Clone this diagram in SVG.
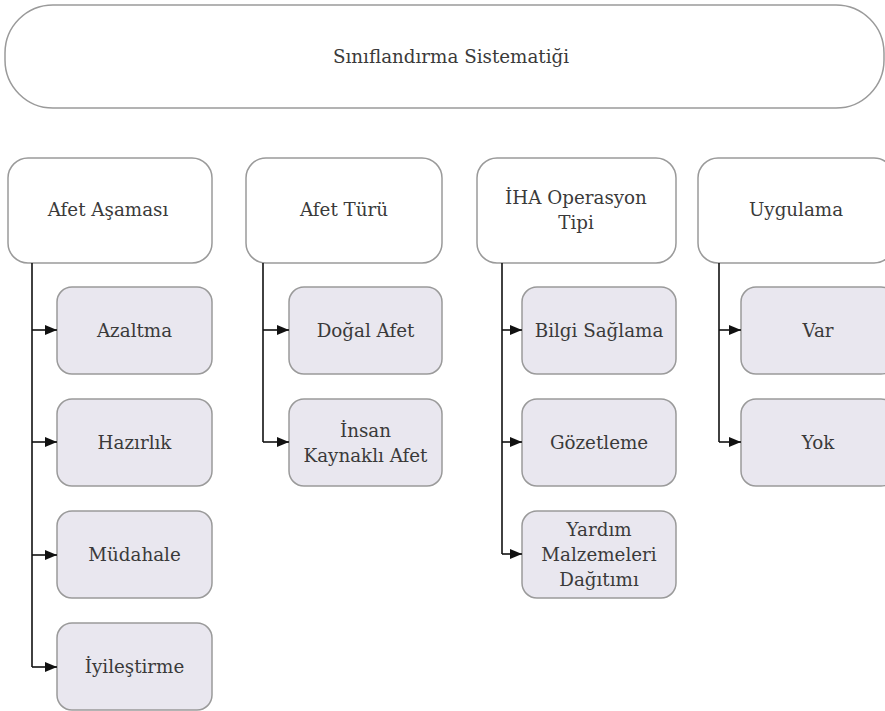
<svg xmlns="http://www.w3.org/2000/svg" width="885" height="711" viewBox="0 0 885 711">
<defs>
<style>
.p{fill:#ffffff;stroke:#9a9a9a;stroke-width:1.5}
.c{fill:#e9e7ef;stroke:#9a9a9a;stroke-width:1.5}
.t{font-family:'DejaVu Serif',serif;font-size:18.3px;fill:#3a3a3a;text-anchor:middle}
.l{fill:none;stroke:#111;stroke-width:1.6}
</style>
<marker id="ah" markerWidth="14" markerHeight="14" refX="12" refY="7" orient="auto" markerUnits="userSpaceOnUse">
<path d="M0,2 L12,7 L0,12 Z" fill="#111"/>
</marker>
</defs>
<rect width="885" height="711" fill="#ffffff"/>
<g id="root"><rect class="p" x="5" y="5" width="879" height="103" rx="48" ry="48"/><text class="t" x="451" y="63">Sınıflandırma Sistematiği</text></g>

<g id="afet-asamasi"><rect class="p" x="8" y="158" width="204" height="105" rx="20"/><text class="t" x="108" y="216">Afet Aşaması</text></g>
<g id="afet-turu"><rect class="p" x="246" y="158" width="196" height="105" rx="20"/><text class="t" x="344" y="216">Afet Türü</text></g>
<g id="iha-operasyon-tipi"><rect class="p" x="477" y="158" width="199" height="105" rx="20"/><text class="t" x="576" y="204">İHA Operasyon</text><text class="t" x="576" y="229">Tipi</text></g>
<g id="uygulama"><rect class="p" x="698" y="158" width="196" height="105" rx="20"/><text class="t" x="796" y="216">Uygulama</text></g>

<g id="azaltma"><rect class="c" x="57" y="287" width="155" height="87" rx="15"/><text class="t" x="134.5" y="337">Azaltma</text></g>
<g id="hazirlik"><rect class="c" x="57" y="399" width="155" height="87" rx="15"/><text class="t" x="134.5" y="449">Hazırlık</text></g>
<g id="mudahale"><rect class="c" x="57" y="511" width="155" height="87" rx="15"/><text class="t" x="134.5" y="561">Müdahale</text></g>
<g id="iyilestirme"><rect class="c" x="57" y="623" width="155" height="87" rx="15"/><text class="t" x="134.5" y="673">İyileştirme</text></g>

<g id="dogal-afet"><rect class="c" x="289" y="287" width="153" height="87" rx="15"/><text class="t" x="365.5" y="337">Doğal Afet</text></g>
<g id="insan-kaynakli-afet"><rect class="c" x="289" y="399" width="153" height="87" rx="15"/><text class="t" x="365.5" y="437">İnsan</text><text class="t" x="365.5" y="462">Kaynaklı Afet</text></g>

<g id="bilgi-saglama"><rect class="c" x="522" y="287" width="154" height="87" rx="15"/><text class="t" x="599" y="337">Bilgi Sağlama</text></g>
<g id="gozetleme"><rect class="c" x="522" y="399" width="154" height="87" rx="15"/><text class="t" x="599" y="449">Gözetleme</text></g>
<g id="yardim-malzemeleri-dagitimi"><rect class="c" x="522" y="511" width="154" height="87" rx="15"/><text class="t" x="599" y="536">Yardım</text><text class="t" x="599" y="561">Malzemeleri</text><text class="t" x="599" y="586">Dağıtımı</text></g>

<g id="var"><rect class="c" x="741" y="287" width="155" height="87" rx="15"/><text class="t" x="818" y="337">Var</text></g>
<g id="yok"><rect class="c" x="741" y="399" width="155" height="87" rx="15"/><text class="t" x="818" y="449">Yok</text></g>

<g id="connectors">
<path class="l" d="M32,263 V667"/>
<path class="l" d="M32,330 H57" marker-end="url(#ah)"/>
<path class="l" d="M32,442 H57" marker-end="url(#ah)"/>
<path class="l" d="M32,555 H57" marker-end="url(#ah)"/>
<path class="l" d="M32,667 H57" marker-end="url(#ah)"/>
<path class="l" d="M263,263 V442"/>
<path class="l" d="M263,330 H289" marker-end="url(#ah)"/>
<path class="l" d="M263,442 H289" marker-end="url(#ah)"/>
<path class="l" d="M502,263 V554"/>
<path class="l" d="M502,330 H522" marker-end="url(#ah)"/>
<path class="l" d="M502,442 H522" marker-end="url(#ah)"/>
<path class="l" d="M502,554 H522" marker-end="url(#ah)"/>
<path class="l" d="M719,263 V442"/>
<path class="l" d="M719,330 H741" marker-end="url(#ah)"/>
<path class="l" d="M719,442 H741" marker-end="url(#ah)"/>
</g>
</svg>
